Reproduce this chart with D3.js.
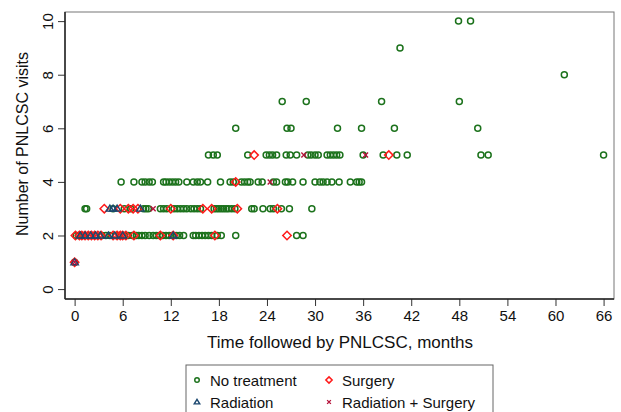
<!DOCTYPE html>
<html>
<head>
<meta charset="utf-8">
<script src="https://cdn.jsdelivr.net/npm/d3@7"></script>
<style>
  body { margin: 0; background: #fff; }
  svg text { font-family: "Liberation Sans", Arial, Helvetica, sans-serif; fill: #111; }
</style>
</head>
<body>
<svg id="chart" width="621" height="412"></svg>
<script>
// [months followed, number of visits]
var noTreatment = [
  [0, 1],
  [0.2, 2], [0.5, 2], [1.0, 2], [1.8, 2], [2.6, 2], [3.4, 2], [3.9, 2], [4.4, 2], [5.1, 2], [5.6, 2],
  [6.2, 2], [6.7, 2], [7.2, 2], [7.7, 2], [8.0, 2], [8.4, 2], [8.8, 2], [9.3, 2], [9.8, 2], [10.2, 2],
  [10.6, 2], [11.0, 2], [11.4, 2], [11.8, 2], [12.2, 2], [12.7, 2], [13.1, 2], [13.6, 2], [14.8, 2],
  [15.1, 2], [15.5, 2], [15.9, 2], [16.3, 2], [16.7, 2], [17.1, 2], [17.8, 2], [18.3, 2], [20.1, 2],
  [27.7, 2], [28.5, 2],
  [1.3, 3], [1.5, 3], [4.8, 3], [6.2, 3], [7.0, 3], [8.6, 3], [8.9, 3], [9.2, 3], [10.7, 3], [11.1, 3],
  [11.5, 3], [12.4, 3], [12.8, 3], [13.2, 3], [13.6, 3], [14.0, 3], [14.5, 3], [14.9, 3], [15.3, 3],
  [15.7, 3], [17.4, 3], [17.7, 3], [18.0, 3], [18.3, 3], [18.6, 3], [18.9, 3], [19.2, 3], [19.6, 3],
  [20.0, 3], [22.1, 3], [22.4, 3], [23.5, 3], [24.4, 3], [24.8, 3], [25.8, 3], [26.8, 3], [29.6, 3],
  [5.8, 4], [7.4, 4], [8.4, 4], [8.8, 4], [9.3, 4], [9.7, 4], [11.1, 4], [11.4, 4], [11.8, 4], [12.2, 4],
  [12.6, 4], [13.0, 4], [14.0, 4], [14.8, 4], [15.3, 4], [15.7, 4], [16.6, 4], [18.2, 4], [19.4, 4],
  [19.8, 4], [20.8, 4], [21.2, 4], [21.6, 4], [21.9, 4], [22.9, 4], [23.4, 4], [24.8, 4], [25.2, 4],
  [26.3, 4], [26.6, 4], [27.2, 4], [28.5, 4], [30.0, 4], [30.6, 4], [31.0, 4], [31.5, 4], [32.1, 4],
  [33.0, 4], [34.4, 4], [35.2, 4], [35.5, 4], [35.8, 4],
  [16.7, 5], [17.3, 5], [17.8, 5], [21.6, 5], [23.9, 5], [24.3, 5], [24.7, 5], [25.2, 5], [26.4, 5],
  [26.9, 5], [27.7, 5], [29.1, 5], [29.5, 5], [30.0, 5], [30.4, 5], [31.5, 5], [31.9, 5], [32.3, 5],
  [32.7, 5], [33.1, 5], [36.0, 5], [38.5, 5], [40.2, 5], [41.5, 5], [50.7, 5], [51.6, 5], [66.0, 5],
  [20.1, 6], [26.5, 6], [27.0, 6], [32.8, 6], [35.8, 6], [39.9, 6], [50.3, 6],
  [25.9, 7], [28.9, 7], [38.3, 7], [48.0, 7],
  [61.1, 8], [40.6, 9], [47.9, 10], [49.4, 10]
];
var surgery = [
  [0, 1],
  [0.1, 2], [0.6, 2], [0.9, 2], [1.3, 2], [1.7, 2], [2.1, 2], [2.5, 2], [2.9, 2], [3.3, 2], [4.8, 2],
  [5.3, 2], [5.7, 2], [6.0, 2], [6.4, 2], [7.4, 2], [10.7, 2], [12.3, 2], [17.5, 2], [26.5, 2],
  [3.7, 3], [5.7, 3], [6.7, 3], [7.3, 3], [7.9, 3], [12.0, 3], [16.0, 3], [17.1, 3], [20.3, 3], [25.3, 3],
  [20.1, 4], [22.4, 5], [39.2, 5]
];
var radiation = [
  [0, 1],
  [0.7, 2], [1.3, 2], [2.0, 2], [2.6, 2], [3.2, 2], [4.2, 2], [5.0, 2], [6.0, 2], [12.3, 2],
  [4.4, 3], [4.8, 3], [5.3, 3], [8.2, 3]
];
var radSurgery = [
  [0, 1], [9.8, 3], [24.4, 4], [28.6, 5], [36.3, 5]
];
var xTicks = [0, 6, 12, 18, 24, 30, 36, 42, 48, 54, 60, 66];
var yTicks = [0, 2, 4, 6, 8, 10];

var green = '#1c721c', red = '#ff1a1a', navy = '#1a476f', maroon = '#b5123a';

var svg = d3.select('#chart');
var x = d3.scaleLinear().domain([-1.2, 67.3]).range([65, 614]);
var y = d3.scaleLinear().domain([-0.37, 10.34]).range([299, 12]);

// plot region frame
svg.append('rect')
  .attr('x', 65).attr('y', 12).attr('width', 549).attr('height', 287)
  .attr('fill', 'none').attr('stroke', '#777').attr('stroke-width', 1);

var xAxis = svg.append('g').attr('transform', 'translate(0,299)')
  .call(d3.axisBottom(x).tickValues(xTicks).tickSize(7).tickPadding(4));
xAxis.select('.domain').remove();
xAxis.selectAll('line').attr('stroke', '#333');
xAxis.selectAll('text').style('font-size', '15px').attr('fill', '#111');

var yAxis = svg.append('g').attr('transform', 'translate(65,0)')
  .call(d3.axisLeft(y).tickValues(yTicks).tickSize(7));
yAxis.select('.domain').remove();
yAxis.selectAll('line').attr('stroke', '#333');
yAxis.selectAll('text')
  .style('font-size', '15px')
  .attr('x', null).attr('dy', null)
  .attr('text-anchor', 'middle')
  .attr('transform', 'translate(-12,0) rotate(-90)')
  .attr('dy', '0');

// axis lines
svg.append('line').attr('x1', 65).attr('x2', 65).attr('y1', 12).attr('y2', 299)
  .attr('stroke', '#222').attr('stroke-width', 1.5);
svg.append('line').attr('x1', 65).attr('x2', 614).attr('y1', 299).attr('y2', 299)
  .attr('stroke', '#222').attr('stroke-width', 1.5);

svg.append('text').attr('x', 340).attr('y', 348).attr('text-anchor', 'middle')
  .style('font-size', '17px').text('Time followed by PNLCSC, months');
svg.append('text').attr('transform', 'translate(28,144) rotate(-90)').attr('text-anchor', 'middle')
  .style('font-size', '16px').text('Number of PNLCSC visits');

function drawMarker(g, kind, scale) {
  scale = scale || 1;
  if (kind === 'circle') {
    g.append('circle').attr('r', 3 * scale).attr('fill', 'none')
      .attr('stroke', green).attr('stroke-width', 1.5);
  } else if (kind === 'diamond') {
    var d = 4.2 * scale;
    g.append('path').attr('d', 'M0,' + (-d) + 'L' + d + ',0L0,' + d + 'L' + (-d) + ',0Z')
      .attr('fill', 'none').attr('stroke', red).attr('stroke-width', 1.5);
  } else if (kind === 'triangle') {
    var t = 3.5 * scale;
    g.append('path').attr('d', 'M0,' + (-t) + 'L' + (t * 1.05) + ',' + (t * 0.7) + 'L' + (-t * 1.05) + ',' + (t * 0.7) + 'Z')
      .attr('fill', 'none').attr('stroke', navy).attr('stroke-width', 1.4);
  } else {
    var c = 2.5 * scale;
    g.append('path').attr('d', 'M' + (-c) + ',' + (-c) + 'L' + c + ',' + c + 'M' + c + ',' + (-c) + 'L' + (-c) + ',' + c)
      .attr('fill', 'none').attr('stroke', maroon).attr('stroke-width', 1.4);
  }
}

var series = [
  { data: noTreatment, kind: 'circle' },
  { data: surgery, kind: 'diamond' },
  { data: radiation, kind: 'triangle' },
  { data: radSurgery, kind: 'cross' }
];
series.forEach(function(s) {
  svg.append('g').selectAll('g')
    .data(s.data)
    .enter().append('g')
    .attr('transform', function(d) { return 'translate(' + x(d[0]) + ',' + y(d[1]) + ')'; })
    .each(function() { drawMarker(d3.select(this), s.kind); });
});

// legend
svg.append('rect').attr('x', 186).attr('y', 365).attr('width', 307).attr('height', 60)
  .attr('fill', '#fff').attr('stroke', '#666').attr('stroke-width', 1);
var legendItems = [
  { label: 'No treatment', kind: 'circle', lx: 197, ly: 380 },
  { label: 'Surgery', kind: 'diamond', lx: 329, ly: 380 },
  { label: 'Radiation', kind: 'triangle', lx: 197, ly: 402 },
  { label: 'Radiation + Surgery', kind: 'cross', lx: 329, ly: 402 }
];
legendItems.forEach(function(it) {
  var g = svg.append('g').attr('transform', 'translate(' + it.lx + ',' + it.ly + ')');
  drawMarker(g, it.kind, 0.75);
  g.append('text').attr('x', 13).attr('y', 5.5).style('font-size', '15px').text(it.label);
});
</script>
</body>
</html>
